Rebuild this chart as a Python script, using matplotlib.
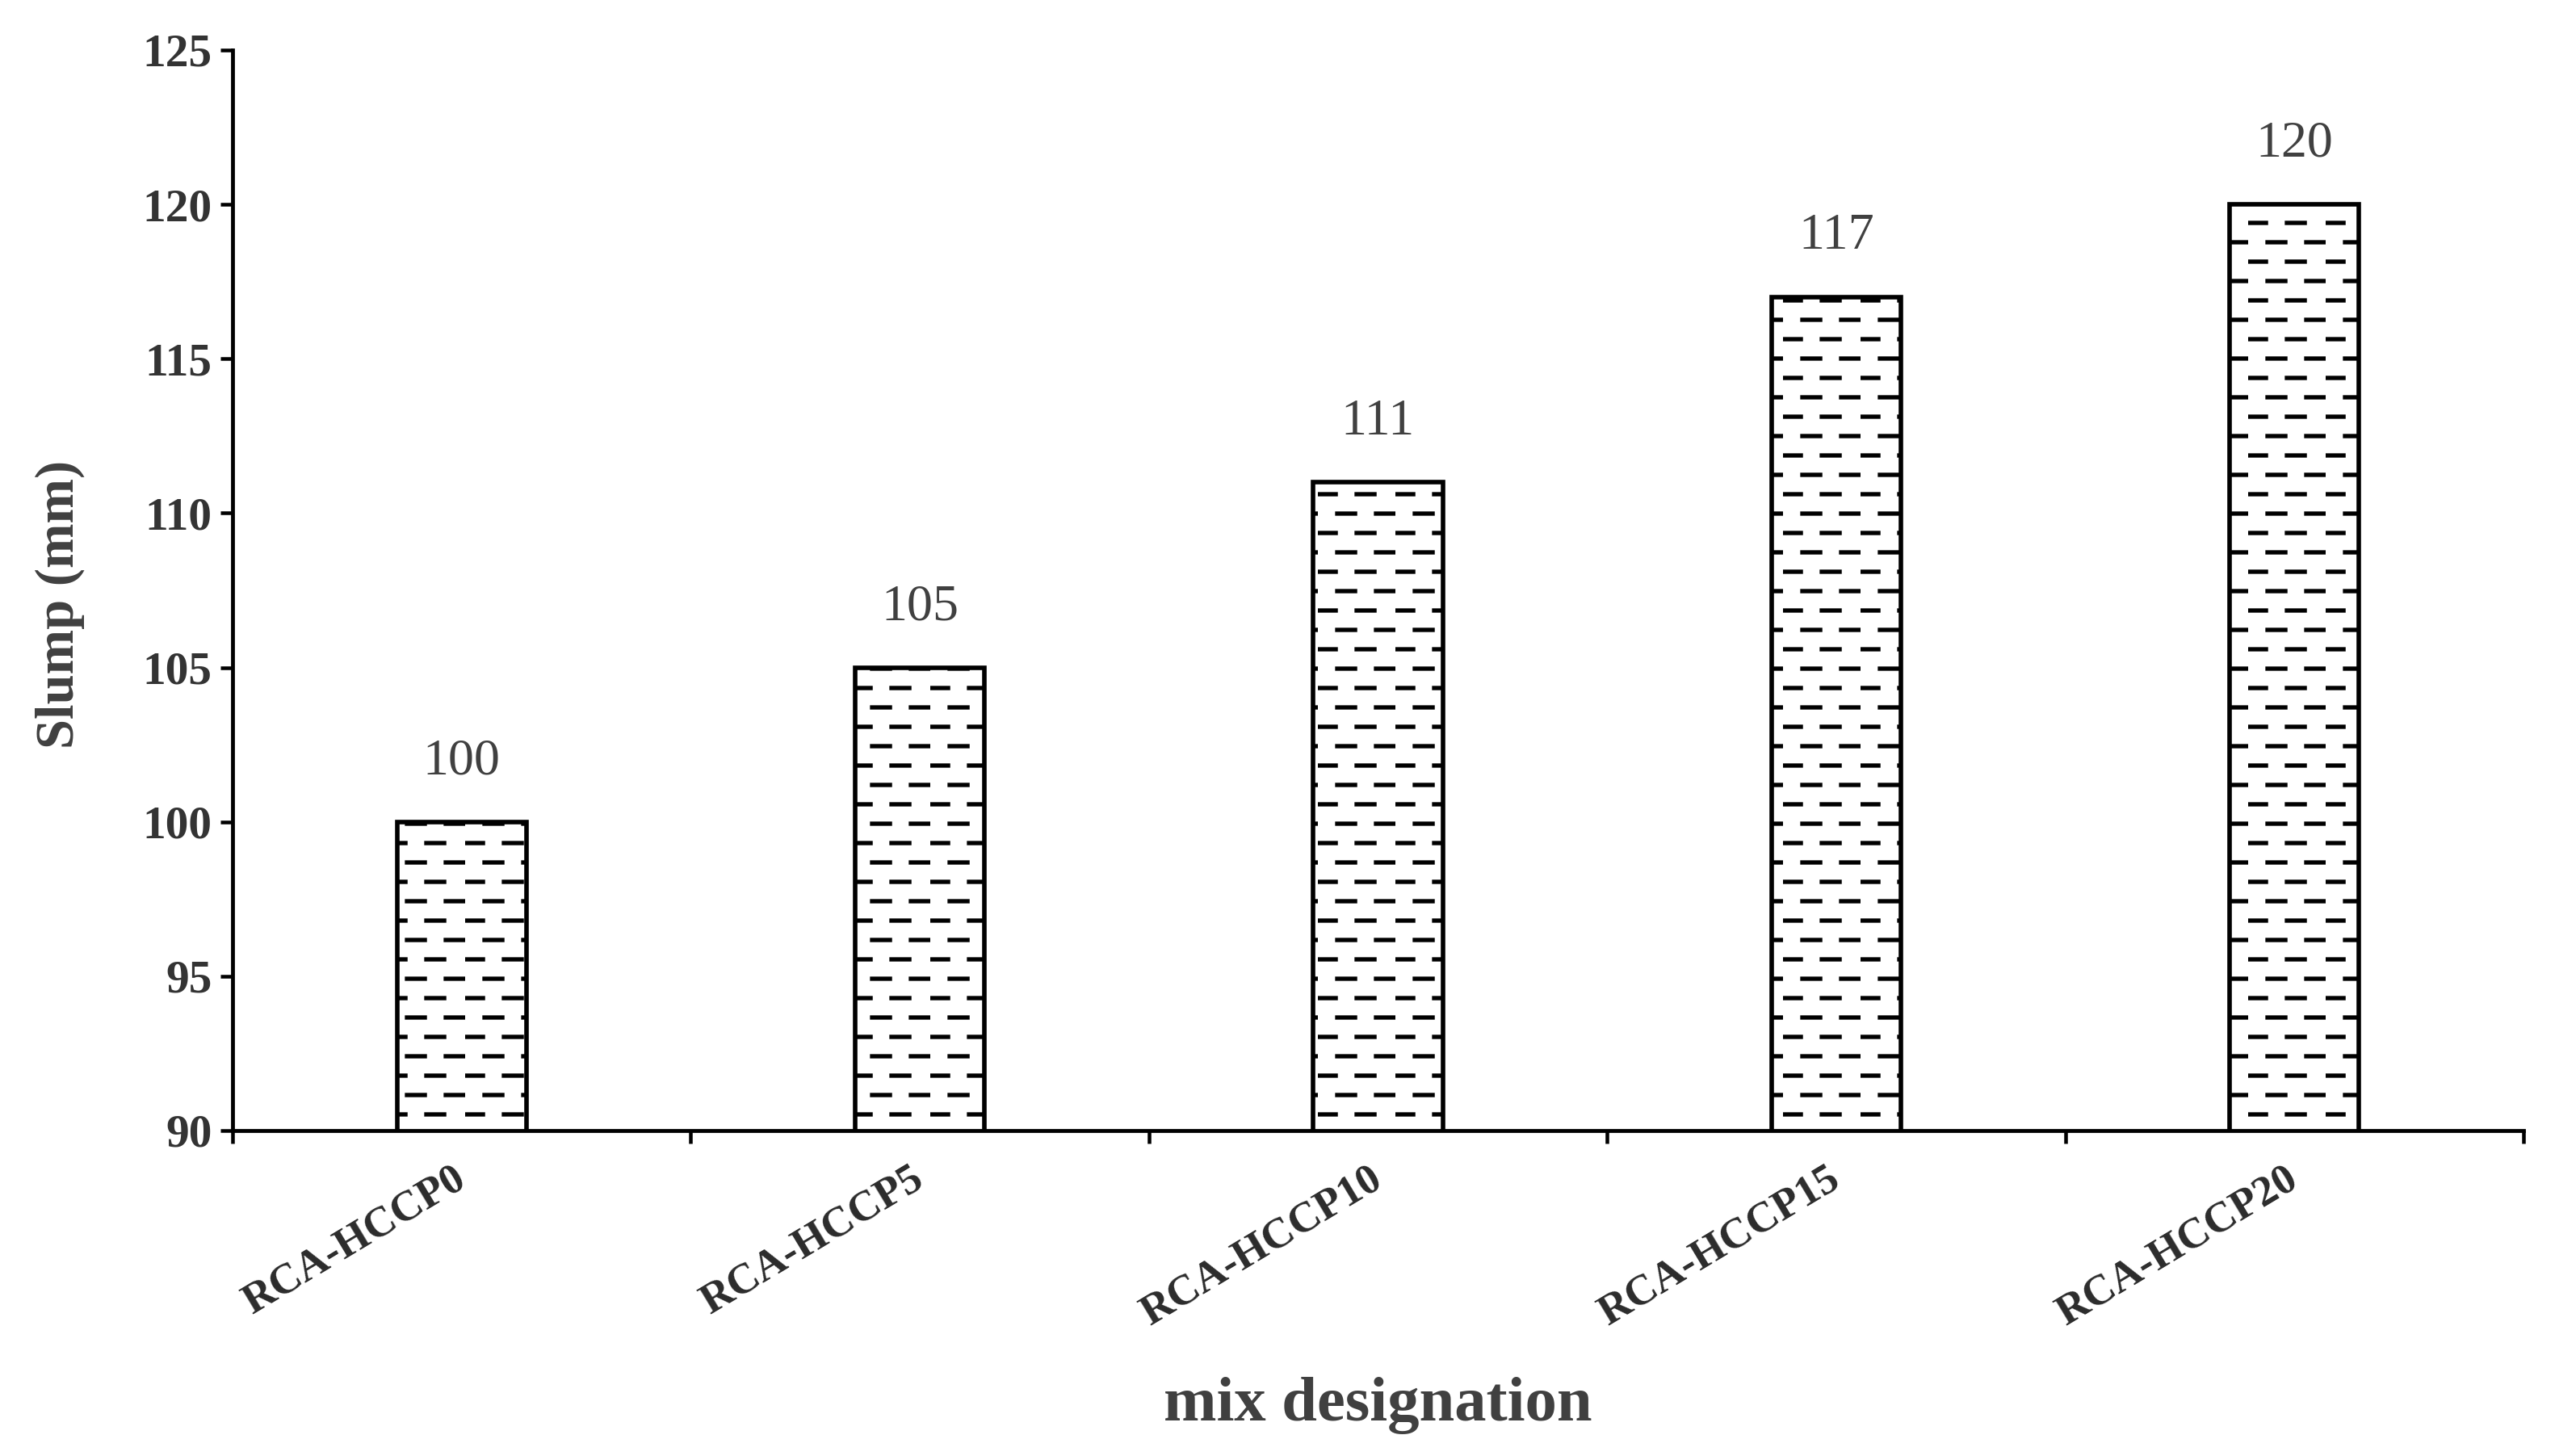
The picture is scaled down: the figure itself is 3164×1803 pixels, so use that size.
import numpy as np
import matplotlib
matplotlib.use("Agg")
import matplotlib.pyplot as plt
import matplotlib.hatch as mhatch
from matplotlib.path import Path

# ---------------- data ----------------
categories = ["RCA-HCCP0", "RCA-HCCP5", "RCA-HCCP10", "RCA-HCCP15", "RCA-HCCP20"]
slump = [100, 105, 111, 117, 120]
y_ticks = [90, 95, 100, 105, 110, 115, 120, 125]

# ---------------- custom "dashed horizontal" hatch ----------------
class BrickDashHatch(mhatch.HatchPatternBase):
    """Rows of short horizontal dashes, alternate rows offset by half a period."""
    def __init__(self, hatch, density):
        self.on = hatch.count('-') > 0
        self.rows = 4
        self.per_row = 2
        self.num_vertices = self.rows * self.per_row * 2 if self.on else 0

    def set_vertices_and_codes(self, vertices, codes):
        dash = 0.23
        k = 0
        for r in range(self.rows):
            y = (r + 0.5) / self.rows
            off = 0.0 if r % 2 == 0 else 0.25
            for d in range(self.per_row):
                x0 = off + d * 0.5
                vertices[k] = (x0, y)
                vertices[k + 1] = (x0 + dash, y)
                codes[k] = Path.MOVETO
                codes[k + 1] = Path.LINETO
                k += 2

mhatch._hatch_types = [BrickDashHatch]

DPI = 96
W, H = 3164, 1803
plt.rcParams['font.family'] = ['Liberation Serif', 'DejaVu Serif']
plt.rcParams['hatch.linewidth'] = 4.0
plt.rcParams['hatch.color'] = 'black'

fig = plt.figure(figsize=(W / DPI, H / DPI), dpi=DPI)
ax = fig.add_axes([288 / W, 1 - 1400 / H, (3125 - 288) / W, (1400 - 62) / H])

x = np.arange(len(categories))
bars = ax.bar(x, slump, width=0.282, bottom=0, color='white', edgecolor='black',
              linewidth=4.2, hatch='-', zorder=2)

ax.set_ylim(90, 125)
ax.set_xlim(-0.5, len(categories) - 0.5)
ax.set_yticks(y_ticks)
ax.set_yticklabels([str(v) for v in y_ticks], fontsize=43, fontweight='bold', color='#333333')

# boundary ticks (major) without labels, category labels on minor ticks
ax.set_xticks(np.arange(len(categories) + 1) - 0.5)
ax.set_xticklabels([])
ax.set_xticks(x, minor=True)
ax.set_xticklabels(categories, minor=True, rotation=31, ha='right', va='center',
                   rotation_mode='anchor', fontsize=40, fontweight='semibold', color='#2b2b2b')
ax.tick_params(axis='x', which='minor', length=0, pad=42)
ax.tick_params(axis='x', which='major', direction='out', length=12, width=3.4)
ax.tick_params(axis='y', direction='out', length=11, width=3.4, pad=8)

for s in ['top', 'right']:
    ax.spines[s].set_visible(False)
for s in ['left', 'bottom']:
    ax.spines[s].set_linewidth(3.6)
    ax.spines[s].set_color('black')

for xi, v in zip(x, slump):
    ax.annotate(str(v), xy=(xi, v), xytext=(0, 34), textcoords='offset points',
                ha='center', va='bottom', fontsize=48, color='#404040')

ax.set_ylabel("Slump (mm)", fontsize=50, fontweight='bold', color='#404040')
ax.yaxis.set_label_coords(-0.0644, 0.487)
ax.set_xlabel("mix designation", fontsize=59, fontweight='bold', color='#404040', va='top')
ax.xaxis.set_label_coords(0.5, -0.228)

fig.savefig("out.png", dpi=DPI)
